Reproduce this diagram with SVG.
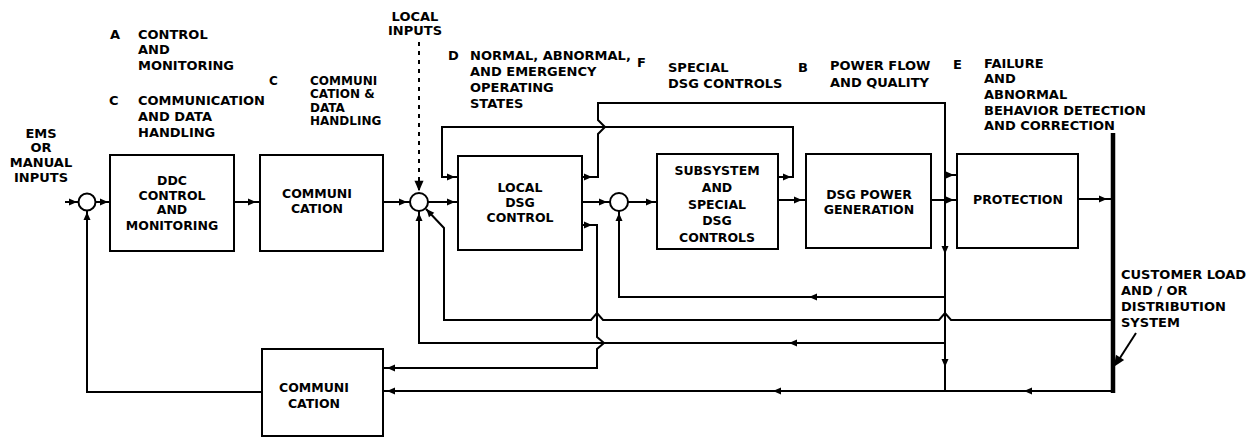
<svg xmlns="http://www.w3.org/2000/svg" xmlns:xlink="http://www.w3.org/1999/xlink" width="1256" height="440" viewBox="0 0 1256 440">
<style>
.ln{fill:none;stroke:#000;stroke-width:2;stroke-linejoin:miter;stroke-linecap:butt}
.box{fill:#fff;stroke:#000;stroke-width:2}
.jn{fill:#fff;stroke:#000;stroke-width:2}
.t{font-family:"DejaVu Sans","Liberation Sans",sans-serif;font-weight:bold;font-size:13px;fill:#000}
.s{font-size:12px}
.b{font-family:"DejaVu Sans","Liberation Sans",sans-serif;font-weight:bold;font-size:12.5px;fill:#000;text-anchor:middle}
.ah{fill:#000;stroke:none}
</style>
<defs>
<path id="ah" class="ah" d="M4,0 L-4,-3.5 L-4,3.5 Z"/>
</defs>
<rect width="1256" height="440" fill="#fff"/>

<!-- annotations -->
<g id="labels" class="t">
<text x="110" y="38.5">A</text>
<text x="138" y="38.5">CONTROL</text>
<text x="138" y="54">AND</text>
<text x="138" y="70">MONITORING</text>
<text x="109" y="105">C</text>
<text x="138" y="105">COMMUNICATION</text>
<text x="138" y="121">AND DATA</text>
<text x="138" y="137">HANDLING</text>
<g class="s">
<text x="269" y="85">C</text>
<text x="310" y="85">COMMUNI</text>
<text x="310" y="98">CATION &amp;</text>
<text x="310" y="111.5">DATA</text>
<text x="310" y="125">HANDLING</text>
</g>
<g text-anchor="middle">
<text x="41" y="138">EMS</text>
<text x="41" y="152">OR</text>
<text x="41" y="166.5">MANUAL</text>
<text x="41" y="182">INPUTS</text>
<text x="415" y="21">LOCAL</text>
<text x="415" y="35">INPUTS</text>
</g>
<text x="448" y="60">D</text>
<text x="470" y="60">NORMAL, ABNORMAL,</text>
<text x="470" y="76">AND EMERGENCY</text>
<text x="470" y="92">OPERATING</text>
<text x="470" y="108">STATES</text>
<text x="637" y="67">F</text>
<text x="668" y="72">SPECIAL</text>
<text x="668" y="88">DSG CONTROLS</text>
<text x="798" y="72">B</text>
<text x="830" y="70">POWER FLOW</text>
<text x="830" y="87">AND QUALITY</text>
<text x="953" y="69">E</text>
<text x="984" y="68">FAILURE</text>
<text x="984" y="83">AND</text>
<text x="984" y="99">ABNORMAL</text>
<text x="984" y="115">BEHAVIOR DETECTION</text>
<text x="984" y="130">AND CORRECTION</text>
<text x="1121" y="279">CUSTOMER LOAD</text>
<text x="1121" y="295">AND / OR</text>
<text x="1121" y="311">DISTRIBUTION</text>
<text x="1121" y="327">SYSTEM</text>
</g>

<!-- connectors -->
<g id="connectors">
<g class="ln">
<path d="M65,202 H79"/>
<path d="M95,202 H110"/>
<path d="M234,202 H260"/>
<path d="M383,202 H410"/>
<path d="M428,202 H458"/>
<path d="M419,42 V190" stroke-dasharray="4,5"/>
<path d="M582,202 H610"/>
<path d="M628,202 H657"/>
<path d="M778,200 H806"/>
<path d="M931,200 H957"/>
<path d="M1078,199 H1111"/>
<path d="M778,177 H793 V127 H442 V177 H458"/>
<path d="M582,177 H598 V134 L605,127 L598,120 V103 H945 V175 H957"/>
<path d="M945,175 V391"/>
<path d="M262,392 H87 V211"/>
<path d="M945,343 H419 V211"/>
<path d="M1111,320 H951 L945,313 L939,320 H603 L597,313 L591,320 H444 V228 L426,209"/>
<path d="M582,225 H597 V337 L604,343 L597,349 V368 H383"/>
<path d="M945,297 H619 V211"/>
<path d="M1113,391 H383"/>
<path d="M1136,333 L1118,361"/>
<path d="M1113,133 V393" stroke-width="4.5"/>
</g>
<use xlink:href="#ah" transform="translate(73,202)"/>
<use xlink:href="#ah" transform="translate(104,202)"/>
<use xlink:href="#ah" transform="translate(252,202)"/>
<use xlink:href="#ah" transform="translate(403,202)"/>
<use xlink:href="#ah" transform="translate(451,202)"/>
<use xlink:href="#ah" transform="translate(419,186) rotate(90) scale(1.3)"/>
<use xlink:href="#ah" transform="translate(419,217) rotate(270)"/>
<use xlink:href="#ah" transform="translate(429,212) rotate(229)"/>
<use xlink:href="#ah" transform="translate(451,177)"/>
<use xlink:href="#ah" transform="translate(588,177)"/>
<use xlink:href="#ah" transform="translate(603,202)"/>
<use xlink:href="#ah" transform="translate(650,202)"/>
<use xlink:href="#ah" transform="translate(619,217) rotate(270)"/>
<use xlink:href="#ah" transform="translate(588,225)"/>
<use xlink:href="#ah" transform="translate(787,177)"/>
<use xlink:href="#ah" transform="translate(798,200)"/>
<use xlink:href="#ah" transform="translate(950,175)"/>
<use xlink:href="#ah" transform="translate(950,200)"/>
<use xlink:href="#ah" transform="translate(1103,199)"/>
<use xlink:href="#ah" transform="translate(945,250) rotate(90)"/>
<use xlink:href="#ah" transform="translate(945,363) rotate(90)"/>
<use xlink:href="#ah" transform="translate(813,297) rotate(180)"/>
<use xlink:href="#ah" transform="translate(793,343) rotate(180)"/>
<use xlink:href="#ah" transform="translate(777,391) rotate(180)"/>
<use xlink:href="#ah" transform="translate(1028,391) rotate(180)"/>
<use xlink:href="#ah" transform="translate(391,368) rotate(180)"/>
<use xlink:href="#ah" transform="translate(391,391) rotate(180)"/>
<use xlink:href="#ah" transform="translate(87,216) rotate(270)"/>
<use xlink:href="#ah" transform="translate(1117,362) rotate(123) scale(1.4)"/>
</g>

<!-- nodes -->
<g id="sum1"><circle class="jn" cx="87" cy="202" r="8.5"/></g>
<g id="sum2"><circle class="jn" cx="419" cy="202" r="9"/></g>
<g id="sum3"><circle class="jn" cx="619" cy="202" r="9"/></g>

<g id="ddc">
<rect class="box" x="110" y="155" width="124" height="96"/>
<text class="b" x="172" y="185">DDC</text>
<text class="b" x="172" y="200">CONTROL</text>
<text class="b" x="172" y="214">AND</text>
<text class="b" x="172" y="230">MONITORING</text>
</g>
<g id="comm1">
<rect class="box" x="260" y="155" width="123" height="96"/>
<text class="b" x="317" y="198">COMMUNI</text>
<text class="b" x="317" y="213">CATION</text>
</g>
<g id="comm2">
<rect class="box" x="262" y="349" width="121" height="87"/>
<text class="b" x="314" y="392">COMMUNI</text>
<text class="b" x="314" y="408">CATION</text>
</g>
<g id="localdsg">
<rect class="box" x="458" y="156" width="124" height="94"/>
<text class="b" x="520" y="192">LOCAL</text>
<text class="b" x="520" y="207">DSG</text>
<text class="b" x="520" y="222">CONTROL</text>
</g>
<g id="subsystem">
<rect class="box" x="657" y="154" width="121" height="95"/>
<text class="b" x="717" y="175">SUBSYSTEM</text>
<text class="b" x="717" y="192">AND</text>
<text class="b" x="717" y="209">SPECIAL</text>
<text class="b" x="717" y="225">DSG</text>
<text class="b" x="717" y="242">CONTROLS</text>
</g>
<g id="dsgpower">
<rect class="box" x="806" y="154" width="125" height="94"/>
<text class="b" x="869" y="199">DSG POWER</text>
<text class="b" x="869" y="214">GENERATION</text>
</g>
<g id="protection">
<rect class="box" x="957" y="154" width="121" height="94"/>
<text class="b" x="1018" y="204">PROTECTION</text>
</g>
</svg>
